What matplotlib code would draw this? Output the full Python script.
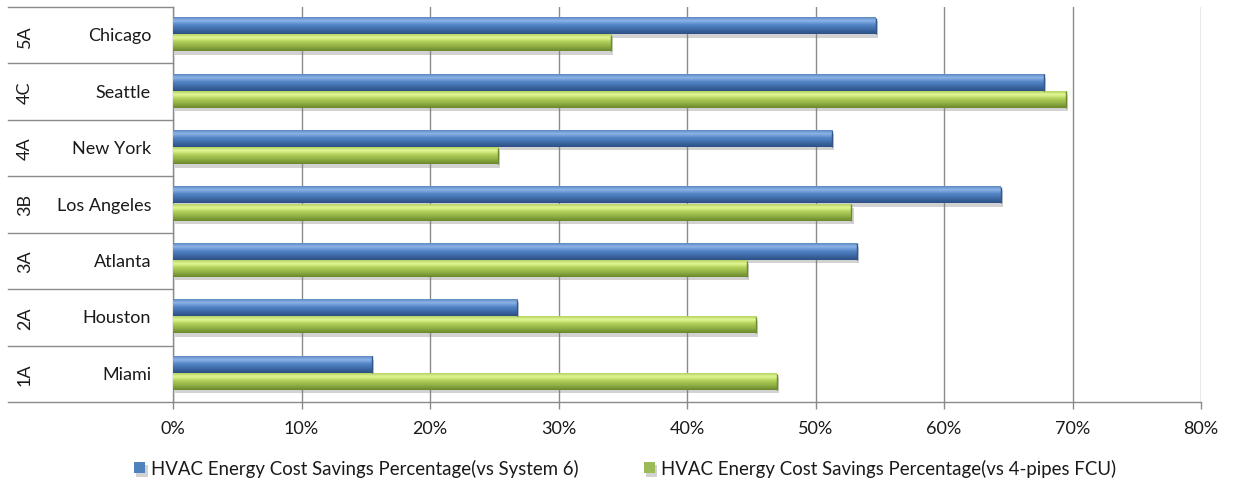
import numpy as np
import matplotlib
matplotlib.use("Agg")
import matplotlib.pyplot as plt
from matplotlib.colors import LinearSegmentedColormap
from matplotlib import patheffects as pe
from matplotlib.ticker import FuncFormatter

plt.rcParams['font.family'] = ['Lato', 'DejaVu Sans']

# Data (bottom to top)
cities = ["Miami", "Houston", "Atlanta", "Los Angeles", "New York", "Seattle", "Chicago"]
zones = ["1A", "2A", "3A", "3B", "4A", "4C", "5A"]
savings_vs_system6 = [15.5, 26.8, 53.2, 64.4, 51.3, 67.8, 54.7]
savings_vs_fcu = [47.0, 45.4, 44.7, 52.8, 25.3, 69.5, 34.1]
series_labels = ["HVAC Energy Cost Savings Percentage(vs System 6)",
                 "HVAC Energy Cost Savings Percentage(vs 4-pipes FCU)"]
x_ticks = [0, 10, 20, 30, 40, 50, 60, 70, 80]

W, H, DPI = 1233, 485, 100
fig = plt.figure(figsize=(W / DPI, H / DPI), dpi=DPI)
L, R, T, B = 173, 1201, 8, 403
ax = fig.add_axes([L / W, 1 - B / H, (R - L) / W, (B - T) / H])

grid_c = "#8a8a8a"
text_c = "#1a1a1a"
fs = 13.0
fs_leg = 13.4

blue_cmap = LinearSegmentedColormap.from_list(
    "blue_bar", [(0.0, "#2d4f84"), (0.25, "#3d68a4"), (0.55, "#5387c8"),
                 (0.8, "#8db5ea"), (1.0, "#5d87c0")])
green_cmap = LinearSegmentedColormap.from_list(
    "green_bar", [(0.0, "#6a872b"), (0.25, "#8dab42"), (0.55, "#afcf58"),
                  (0.8, "#e4f896"), (1.0, "#b2d160")])

y = np.arange(len(cities))
bh = 0.29
shadow = [pe.SimplePatchShadow(offset=(1.5, -2.5), shadow_rgbFace="#7f7f7f", alpha=0.35), pe.Normal()]

b1 = ax.barh(y + 0.165, savings_vs_system6, height=bh, color="#4f81bd",
             edgecolor="none", zorder=3, label=series_labels[0], path_effects=shadow)
b2 = ax.barh(y - 0.14, savings_vs_fcu, height=bh, color="#9bbb59",
             edgecolor="none", zorder=3, label=series_labels[1], path_effects=shadow)

grad = np.linspace(0, 1, 64).reshape(-1, 1)
for bars, cmap, edge in [(b1, blue_cmap, "#34578a"), (b2, green_cmap, "#6f8c31")]:
    for p in bars:
        x0, y0, w, h = p.get_x(), p.get_y(), p.get_width(), p.get_height()
        ax.imshow(grad, cmap=cmap, aspect="auto", origin="lower",
                  extent=[x0, x0 + w, y0, y0 + h], zorder=4, interpolation="bicubic")
        ax.plot([x0 + w, x0 + w], [y0, y0 + h], color=edge, lw=1.0, zorder=5,
                solid_capstyle="butt")

ax.set_xlim(0, 80)
ax.set_ylim(-0.5, len(cities) - 0.5)
ax.set_xticks(x_ticks)
ax.xaxis.set_major_formatter(FuncFormatter(lambda v, _: f"{v:.0f}%"))
ax.tick_params(axis="x", direction="out", length=5, width=1, color=grid_c,
               pad=8, labelsize=fs, labelcolor=text_c)
ax.set_yticks([])
ax.grid(axis="x", color=grid_c, lw=1, zorder=1)
ax.set_axisbelow(True)
for s in ["top", "right"]:
    ax.spines[s].set_visible(False)
for s in ["left", "bottom"]:
    ax.spines[s].set_color(grid_c)
    ax.spines[s].set_linewidth(1)
ax.set_facecolor("white")

# Two-level category axis on the left
ytr = ax.get_yaxis_transform()
x_left = (8 - L) / (R - L)
for b in np.arange(-0.5, len(cities), 1.0):
    ax.plot([x_left, 0], [b, b], color=grid_c, lw=1, transform=ytr, clip_on=False)
for i, (c, z) in enumerate(zip(cities, zones)):
    ax.text((151 - L) / (R - L), i, c, transform=ytr, ha="right", va="center",
            fontsize=fs, color=text_c)
    ax.text((25 - L) / (R - L), i, z, transform=ytr, ha="center", va="center",
            rotation=90, fontsize=fs, color=text_c)

fig.legend(handles=[b1, b2], labels=series_labels, loc="center",
           bbox_to_anchor=(625 / W, 1 - 469 / H), ncol=2, frameon=False,
           fontsize=fs_leg, handlelength=0.6, handleheight=0.6, handletextpad=0.3,
           columnspacing=3.5, labelcolor=text_c)

fig.savefig("out.png", dpi=DPI, facecolor="white")
